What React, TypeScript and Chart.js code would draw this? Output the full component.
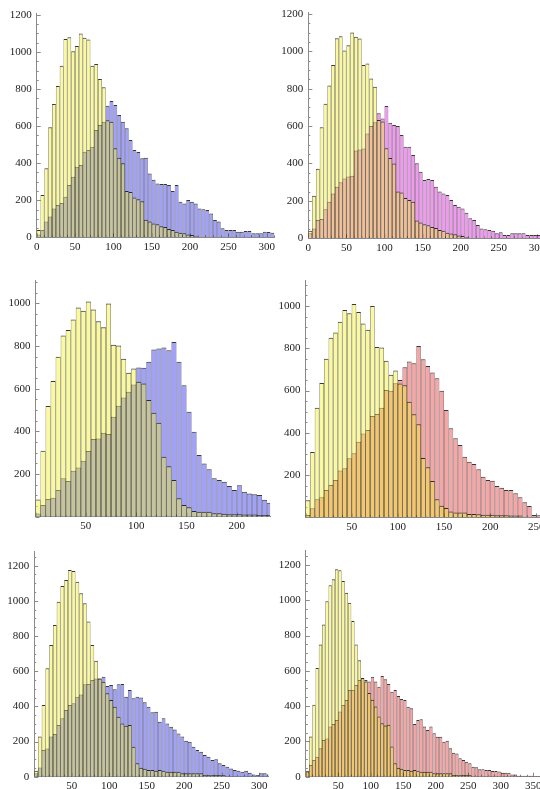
import React, { useEffect, useRef } from 'react';
import { Chart, registerables } from 'chart.js';
Chart.register(...registerables);

// ---- data (bin width 5, bins start at 0) ----
const BIN = 5;

const yellowA = [40, 228, 372, 594, 720, 817, 926, 1070, 1080, 1004, 1032, 1100, 1077, 1068, 926, 935, 855, 810, 632, 624, 481, 430, 400, 250, 245, 215, 205, 195, 95, 85, 75, 70, 60, 55, 45, 40, 30, 25, 22, 15, 12, 6];
const blueA = [15, 40, 85, 112, 156, 174, 185, 219, 282, 327, 381, 390, 462, 471, 489, 579, 606, 624, 710, 735, 714, 660, 624, 588, 525, 471, 460, 426, 430, 345, 310, 290, 288, 288, 282, 250, 282, 192, 183, 201, 192, 183, 156, 151, 147, 129, 94, 85, 49, 40, 40, 40, 30, 30, 34, 34, 22, 22, 22, 30, 28, 25];
const magentaA = [27, 53, 98, 103, 155, 196, 240, 276, 300, 320, 330, 335, 470, 475, 480, 560, 600, 620, 668, 641, 707, 618, 606, 600, 552, 490, 490, 445, 401, 356, 312, 317, 312, 276, 250, 240, 232, 205, 178, 169, 160, 137, 107, 98, 71, 53, 48, 45, 41, 27, 32, 18, 18, 27, 27, 27, 27, 18, 18, 18, 18];

const yellowB = [81, 309, 519, 636, 750, 850, 875, 925, 981, 966, 1009, 972, 917, 888, 1000, 806, 803, 741, 675, 695, 633, 625, 547, 488, 440, 281, 237, 172, 86, 55, 44, 27, 23, 23, 23, 16, 16, 14, 12, 12, 12, 10, 10, 10, 8, 8, 8];
const blueB = [15, 55, 83, 89, 125, 180, 167, 215, 231, 262, 308, 364, 367, 394, 388, 469, 520, 559, 586, 620, 700, 698, 727, 784, 789, 794, 781, 819, 727, 617, 492, 398, 289, 250, 222, 180, 172, 164, 144, 125, 147, 117, 109, 105, 102, 80, 66];
const redB = [11, 43, 85, 95, 129, 153, 177, 221, 232, 279, 303, 358, 397, 413, 479, 489, 519, 602, 599, 634, 650, 710, 737, 729, 811, 748, 716, 685, 658, 599, 508, 421, 374, 342, 287, 263, 252, 227, 192, 177, 173, 148, 140, 129, 129, 114, 95, 71, 54, 11, 10];

const yellowC = [34, 228, 408, 616, 749, 863, 995, 1085, 1119, 1176, 1170, 1109, 1043, 986, 882, 749, 660, 559, 540, 474, 436, 398, 341, 303, 290, 294, 171, 76, 51, 45, 38, 38, 34, 38, 34, 28, 28, 28, 28, 19, 19, 19, 19, 19, 19, 10, 10, 10, 10, 10, 10];
const blueC = [19, 53, 152, 161, 228, 243, 294, 332, 379, 408, 417, 455, 468, 525, 527, 550, 559, 559, 569, 516, 521, 497, 525, 527, 455, 493, 446, 455, 451, 423, 398, 366, 370, 313, 332, 303, 284, 269, 246, 228, 205, 199, 171, 152, 142, 123, 114, 95, 99, 76, 66, 57, 47, 38, 34, 28, 34, 23, 13, 10, 19, 19, 13];
const redC = [28, 66, 95, 113, 161, 208, 217, 284, 299, 321, 369, 406, 435, 491, 491, 520, 548, 558, 548, 539, 567, 539, 510, 571, 552, 526, 482, 491, 457, 440, 435, 397, 388, 299, 321, 325, 284, 265, 284, 246, 227, 227, 198, 204, 161, 136, 132, 104, 95, 85, 76, 57, 53, 42, 42, 38, 38, 32, 32, 30, 23, 23, 23, 13, 13, 6, 6, 6, 6, 6, 4, 4];

const yTicksFull = [0, 200, 400, 600, 800, 1000, 1200];
const yTicksMid = [200, 400, 600, 800, 1000];
const xTicksA = [0, 50, 100, 150, 200, 250, 300];
const xTicksB = [50, 100, 150, 200];
const xTicksB2 = [50, 100, 150, 200, 250];
const xTicksC = [50, 100, 150, 200, 250, 300];
const xTicksC2 = [50, 100, 150, 200, 250, 300, 350];

// ---- styles ----
const YELLOW = 'rgba(245,240,45,0.45)';
const BLUE = 'rgba(110,110,245,0.65)';
const MAGENTA = 'rgba(230,100,230,0.65)';
const RED = 'rgba(240,120,120,0.65)';
const EDGE = 'rgba(20,20,20,0.85)';
const AXIS = '#8a8a8a';
const FONT = { family: "'Liberation Serif', 'DejaVu Serif', serif", size: 11 };
const W = 540;
const H = 789;
const YW = 40;
const XH = 20;

type Panel = {
  left: number; right: number; top: number; bottom: number;
  xMax: number; yMax: number; xTicks: number[]; yTicks: number[];
  series: [number[], string][];
};

const PANELS: Panel[] = [
  { left: 36.7, right: 274.4, top: 13.1, bottom: 237.3, xMax: 310, yMax: 1210, xTicks: xTicksA, yTicks: yTicksFull, series: [[yellowA, YELLOW], [blueA, BLUE]] },
  { left: 308.3, right: 540, top: 12.0, bottom: 238.3, xMax: 304, yMax: 1210, xTicks: xTicksA, yTicks: yTicksFull, series: [[yellowA, YELLOW], [magentaA, MAGENTA]] },
  { left: 35.5, right: 270.1, top: 280, bottom: 516.7, xMax: 233, yMax: 1110, xTicks: xTicksB, yTicks: yTicksMid, series: [[yellowB, YELLOW], [blueB, BLUE]] },
  { left: 305.5, right: 540, top: 280, bottom: 517.3, xMax: 254, yMax: 1123, xTicks: xTicksB2, yTicks: yTicksMid, series: [[yellowB, YELLOW], [redB, RED]] },
  { left: 34.2, right: 268.2, top: 551.6, bottom: 776.7, xMax: 312, yMax: 1280, xTicks: xTicksC, yTicks: yTicksFull, series: [[yellowC, YELLOW], [blueC, BLUE]] },
  { left: 305.8, right: 539.8, top: 550.9, bottom: 776.7, xMax: 360, yMax: 1280, xTicks: xTicksC2, yTicks: yTicksFull, series: [[yellowC, YELLOW], [redC, RED]] },
];

const tickPlugin = {
  id: 'mmaTicks',
  beforeDatasetsDraw(chart: any) {
    const { ctx, chartArea, scales } = chart;
    const x = scales.x, y = scales.y;
    ctx.save();
    ctx.strokeStyle = AXIS;
    ctx.lineWidth = 1;
    ctx.beginPath();
    for (let v = 0; v <= y.max; v += 50) {
      const py = Math.round(y.getPixelForValue(v)) + 0.5;
      const len = v % 200 === 0 ? 4 : 2;
      ctx.moveTo(chartArea.left, py);
      ctx.lineTo(chartArea.left + len, py);
    }
    for (let v = 0; v <= x.max; v += 10) {
      const px = Math.round(x.getPixelForValue(v)) + 0.5;
      const len = v % 50 === 0 ? 4 : 2;
      ctx.moveTo(px, chartArea.bottom);
      ctx.lineTo(px, chartArea.bottom - len);
    }
    ctx.stroke();
    ctx.restore();
  },
};

function PanelChart({ p }: { p: Panel }) {
  const ref = useRef<HTMLCanvasElement>(null);
  useEffect(() => {
    const chart = new Chart(ref.current as HTMLCanvasElement, {
      type: 'bar',
      data: {
        datasets: p.series.map(([vals, color]) => ({
          data: vals.map((v, i) => ({ x: i * BIN + BIN / 2, y: v })),
          backgroundColor: color,
          borderColor: EDGE,
          borderWidth: { top: 1, left: 0.5, right: 0.5, bottom: 0 },
          borderSkipped: false,
          barPercentage: 1,
          categoryPercentage: 1,
          grouped: false,
          inflateAmount: 0,
        })) as any,
      },
      options: {
        animation: false,
        responsive: false,
        events: [],
        layout: { padding: { left: p.left - YW, right: W - p.right, top: p.top, bottom: H - p.bottom - XH } },
        plugins: { legend: { display: false }, tooltip: { enabled: false } },
        scales: {
          x: {
            type: 'linear', min: 0, max: p.xMax, offset: false,
            grid: { display: false, drawTicks: false },
            border: { display: true, color: AXIS, width: 1 },
            ticks: { font: FONT, color: '#222', padding: 3, maxRotation: 0, autoSkip: false, includeBounds: false, callback: (v: any) => String(v) },
            afterBuildTicks: (a: any) => { a.ticks = p.xTicks.map((v) => ({ value: v })); },
            afterFit: (s: any) => { s.height = XH; s.paddingLeft = 0; s.paddingRight = 0; s.paddingTop = 0; s.paddingBottom = 0; },
          },
          y: {
            type: 'linear', min: 0, max: p.yMax,
            grid: { display: false, drawTicks: false },
            border: { display: true, color: AXIS, width: 1 },
            ticks: { font: FONT, color: '#222', padding: 5, autoSkip: false, includeBounds: false, callback: (v: any) => String(v) },
            afterBuildTicks: (a: any) => { a.ticks = p.yTicks.map((v) => ({ value: v })); },
            afterFit: (s: any) => { s.width = YW; s.paddingLeft = 0; s.paddingRight = 0; s.paddingTop = 0; s.paddingBottom = 0; },
          },
        },
      } as any,
      plugins: [tickPlugin],
    });
    return () => chart.destroy();
  }, []);
  return <canvas ref={ref} width={W} height={H} style={{ position: 'absolute', left: 0, top: 0, width: W, height: H }} />;
}

export default function App() {
  return (
    <div style={{ position: 'absolute', left: 0, top: 0, width: W, height: H, background: '#fff', overflow: 'hidden' }}>
      {PANELS.map((p, i) => <PanelChart key={i} p={p} />)}
    </div>
  );
}
